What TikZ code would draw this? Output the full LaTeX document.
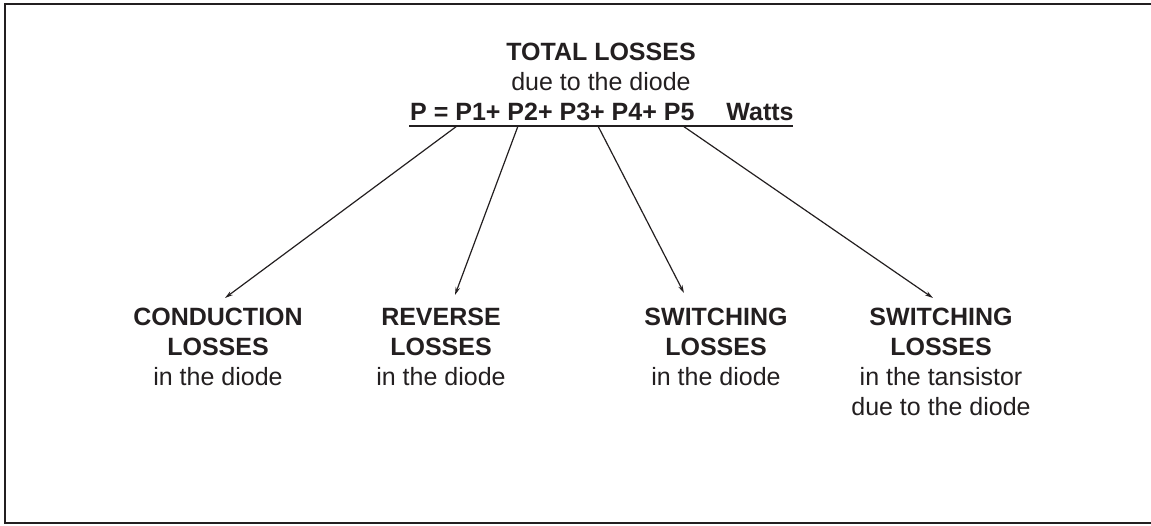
\documentclass[tikz,border=0pt]{standalone}
\usepackage{fontspec}
\setmainfont{Liberation Sans}
\usetikzlibrary{arrows.meta}
\definecolor{ink}{HTML}{231F20}
\begin{document}
\begin{tikzpicture}[x=1pt,y=-1pt,
  lbl/.style={inner sep=0pt,anchor=base,text=ink,font=\fontsize{25}{30}\selectfont,align=center},
  conn/.style={draw=ink,line width=1.2pt,-{Stealth[length=8pt,width=4.5pt]}},
  frame/.style={draw=ink,line width=2pt}]
\useasboundingbox (0,0) rectangle (1151,525);
% frame
\draw[frame] (1151,4) -- (5,4) -- (5,523) -- (1151,523);
% header
\node[lbl] (total) at (601,60) {\textbf{TOTAL LOSSES}};
\node[lbl] (due) at (601,90) {due to the diode};
\node[lbl,anchor=base west] (formula) at (410,120) {\textbf{P = P1+ P2+ P3+ P4+ P5\hspace{32pt}Watts}};
\coordinate (u1) at (409,126);
\coordinate (u2) at (793,126);
\draw[draw=ink,line width=2pt] (u1) -- (u2);
% bottom nodes (base anchor = last line baseline)
\node[lbl] (cond) at (218,385) {\textbf{CONDUCTION}\\\textbf{LOSSES}\\in the diode};
\node[lbl] (rev) at (441,385) {\textbf{REVERSE}\\\textbf{LOSSES}\\in the diode};
\node[lbl] (sw) at (716,385) {\textbf{SWITCHING}\\\textbf{LOSSES}\\in the diode};
\node[lbl] (swt) at (941,415) {\textbf{SWITCHING}\\\textbf{LOSSES}\\in the tansistor\\due to the diode};
% connectors
\coordinate (s1) at (457,126);
\coordinate (s2) at (518,126);
\coordinate (s3) at (598,126);
\coordinate (s4) at (683,126);
\coordinate (t1) at (225,298);
\coordinate (t2) at (455,295);
\coordinate (t3) at (684,293);
\coordinate (t4) at (933,298);
\draw[conn] (s1) -- (t1);
\draw[conn] (s2) -- (t2);
\draw[conn] (s3) -- (t3);
\draw[conn] (s4) -- (t4);
\end{tikzpicture}
\end{document}
